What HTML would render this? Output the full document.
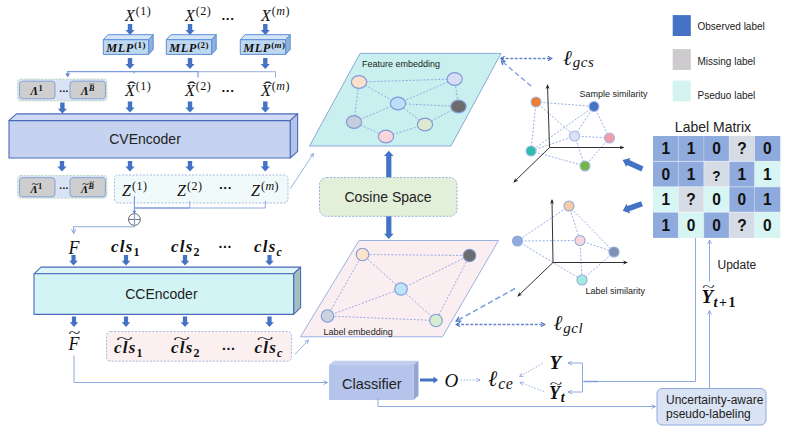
<!DOCTYPE html>
<html lang="en"><head><meta charset="utf-8"><title>Framework overview</title>
<style>
html,body{margin:0;padding:0;background:#fff}
body{width:800px;height:432px;overflow:hidden}
svg{display:block}
.sans{font-family:"Liberation Sans",Arial,sans-serif;fill:#222}
.mi{font-family:"Liberation Serif","DejaVu Serif",serif;font-style:italic;fill:#111}
.mb{font-family:"Liberation Serif","DejaVu Serif",serif;font-style:italic;font-weight:bold;fill:#111}
.mr{font-family:"Liberation Serif","DejaVu Serif",serif;font-style:normal;font-weight:normal;fill:#111}
.mrb{font-family:"Liberation Serif","DejaVu Serif",serif;font-style:normal;font-weight:bold;fill:#111}
.dots{font-family:"Liberation Sans",sans-serif;font-weight:bold;fill:#111}
.cell{font-family:"Liberation Sans",Arial,sans-serif;font-weight:bold;font-size:16.5px;fill:#111;text-anchor:middle}
</style></head><body>
<svg width="800" height="432" viewBox="0 0 800 432">
<defs>
<marker id="oa" viewBox="0 0 10 10" refX="9" refY="5" markerWidth="5" markerHeight="5" orient="auto-start-reverse"><path d="M1 1L9 5L1 9" fill="none" stroke="#7C9BDD" stroke-width="1.6"/></marker>
<marker id="fa" viewBox="0 0 10 10" refX="8" refY="5" markerWidth="4" markerHeight="4" markerUnits="strokeWidth" orient="auto-start-reverse"><path d="M1 0.8L8.5 5L1 9.2" fill="none" stroke="#4A6DC0" stroke-width="2.2"/></marker>
<marker id="ka" viewBox="0 0 10 10" refX="8" refY="5" markerWidth="5" markerHeight="5" orient="auto-start-reverse"><path d="M0 1L10 5L0 9L3 5Z" fill="#222"/></marker>
</defs>
<rect width="800" height="432" fill="#fff"/>

<text x="125" y="21" class="mi" font-size="16">X<tspan class="mr" font-size="12" dx="1" dy="-6" letter-spacing="0.5">(1)</tspan></text>
<text x="185" y="21" class="mi" font-size="16">X<tspan class="mr" font-size="12" dx="1" dy="-6" letter-spacing="0.5">(2)</tspan></text>
<text x="261" y="21" class="mi" font-size="16">X<tspan class="mr" font-size="12" dx="1" dy="-6" letter-spacing="0.5">(<tspan class="mi">m</tspan>)</tspan></text>
<text x="221.5" y="20" class="dots" font-size="13.5" letter-spacing="0.6">...</text>
<path d="M127.8 24.0H132.2V30.1H134.6L130.0 35.0L125.4 30.1H127.8Z" fill="#4472C4"/>
<path d="M187.8 24.0H192.2V30.1H194.6L190.0 35.0L185.4 30.1H187.8Z" fill="#4472C4"/>
<path d="M263.1 24.0H267.5V30.1H269.9L265.3 35.0L260.7 30.1H263.1Z" fill="#4472C4"/>
<path d="M103.3 39.7L107.89999999999999 34.7H153.2L148.6 39.7Z" fill="#D3E5F7" stroke="#5B8FD6" stroke-width="1" stroke-linejoin="round"/><path d="M148.6 39.7L153.2 34.7V49.4L148.6 54.4Z" fill="#8FB0D9" stroke="#5B8FD6" stroke-width="1" stroke-linejoin="round"/><rect x="103.3" y="39.7" width="45.3" height="14.699999999999996" fill="#BFD8F2" stroke="#5B8FD6" stroke-width="1" stroke-linejoin="round"/>
<text x="106.3" y="51.8" class="mb" font-size="12.3" letter-spacing="0.55">MLP<tspan class="mrb" font-size="9" dy="-4" dx="0.3" letter-spacing="0.4">(1)</tspan></text>
<path d="M166.3 39.7L170.9 34.7H216.2L211.6 39.7Z" fill="#D3E5F7" stroke="#5B8FD6" stroke-width="1" stroke-linejoin="round"/><path d="M211.6 39.7L216.2 34.7V49.4L211.6 54.4Z" fill="#8FB0D9" stroke="#5B8FD6" stroke-width="1" stroke-linejoin="round"/><rect x="166.3" y="39.7" width="45.29999999999998" height="14.699999999999996" fill="#BFD8F2" stroke="#5B8FD6" stroke-width="1" stroke-linejoin="round"/>
<text x="169.3" y="51.8" class="mb" font-size="12.3" letter-spacing="0.55">MLP<tspan class="mrb" font-size="9" dy="-4" dx="0.3" letter-spacing="0.4">(2)</tspan></text>
<path d="M240.3 39.7L244.9 34.7H290.20000000000005L285.6 39.7Z" fill="#D3E5F7" stroke="#5B8FD6" stroke-width="1" stroke-linejoin="round"/><path d="M285.6 39.7L290.20000000000005 34.7V49.4L285.6 54.4Z" fill="#8FB0D9" stroke="#5B8FD6" stroke-width="1" stroke-linejoin="round"/><rect x="240.3" y="39.7" width="45.30000000000001" height="14.699999999999996" fill="#BFD8F2" stroke="#5B8FD6" stroke-width="1" stroke-linejoin="round"/>
<text x="243.3" y="51.8" class="mb" font-size="12.3" letter-spacing="0.55">MLP<tspan class="mrb" font-size="9" dy="-4" dx="0.3" letter-spacing="0.4">(<tspan class="mb">m</tspan>)</tspan></text>
<path d="M127.8 58.0H132.2V64.1H134.6L130.0 69.0L125.4 64.1H127.8Z" fill="#4472C4"/>
<path d="M187.8 58.0H192.2V64.1H194.6L190.0 69.0L185.4 64.1H187.8Z" fill="#4472C4"/>
<path d="M263.1 58.0H267.5V64.1H269.9L265.3 69.0L260.7 64.1H263.1Z" fill="#4472C4"/>
<path d="M275.5 77.5V71.7H198" fill="none" stroke="#8FAADC" stroke-width="0.9"/><path d="M198 77.5V71.7H67.7V75M134 71.7V73.5" fill="none" stroke="#7C9BDD" stroke-width="1.2"/>
<path d="M65.2 73.6L67.7 77.2L70.2 73.6Z" fill="#5F84D4"/>
<rect x="17.5" y="79" width="89.5" height="22" rx="3" fill="#DAE3F3" stroke="#B5D6A7" stroke-width="0.8" stroke-dasharray="2 1.5"/><rect x="19.6" y="81.2" width="35.4" height="17.6" rx="3" fill="#CFCECE" stroke="#7F9AD4" stroke-width="0.9"/><rect x="70" y="81.2" width="35.4" height="17.6" rx="3" fill="#CFCECE" stroke="#7F9AD4" stroke-width="0.9"/><text x="30.5" y="95" class="mb" font-size="11.5">Λ<tspan class="mrb" font-size="8.5" dy="-4.5" dx="0.3">1</tspan></text><text x="81" y="95" class="mb" font-size="11.5">Λ<tspan class="mb" font-size="8" dy="-4.5" dx="0.3">B</tspan></text><text x="89.6" y="85.6" class="mrb" font-size="6" textLength="4.5" lengthAdjust="spacingAndGlyphs">~</text><text x="59.3" y="92.4" class="dots" font-size="10" letter-spacing="0.3">...</text>
<text x="125" y="96" class="mi" font-size="16">X<tspan class="mr" font-size="12" dx="1" dy="-6" letter-spacing="0.5">(1)</tspan></text>
<text x="127.2" y="93" class="mr" font-size="17" textLength="9" lengthAdjust="spacingAndGlyphs">ˆ</text>
<text x="185" y="96" class="mi" font-size="16">X<tspan class="mr" font-size="12" dx="1" dy="-6" letter-spacing="0.5">(2)</tspan></text>
<text x="187.2" y="93" class="mr" font-size="17" textLength="9" lengthAdjust="spacingAndGlyphs">ˆ</text>
<text x="261" y="96" class="mi" font-size="16">X<tspan class="mr" font-size="12" dx="1" dy="-6" letter-spacing="0.5">(<tspan class="mi">m</tspan>)</tspan></text>
<text x="263.2" y="93" class="mr" font-size="17" textLength="9" lengthAdjust="spacingAndGlyphs">ˆ</text>
<text x="221.5" y="92.3" class="dots" font-size="13.5" letter-spacing="0.6">...</text>
<path d="M60.2 102.6H64.6V108.7H67.0L62.4 113.6L57.8 108.7H60.2Z" fill="#4472C4"/>
<path d="M127.8 101.5H132.2V107.6H134.6L130.0 112.5L125.4 107.6H127.8Z" fill="#4472C4"/>
<path d="M187.8 101.5H192.2V107.6H194.6L190.0 112.5L185.4 107.6H187.8Z" fill="#4472C4"/>
<path d="M263.1 101.5H267.5V107.6H269.9L265.3 112.5L260.7 107.6H263.1Z" fill="#4472C4"/>
<path d="M9 120.6L16.4 113.89999999999999H297.59999999999997L290.2 120.6Z" fill="#CFDAF3" stroke="#4A6ABB" stroke-width="1.1" stroke-linejoin="round"/><path d="M290.2 120.6L297.59999999999997 113.89999999999999V151.3L290.2 158Z" fill="#B5C4E6" stroke="#4A6ABB" stroke-width="1.1" stroke-linejoin="round"/><rect x="9" y="120.6" width="281.2" height="37.400000000000006" fill="#C5D3F0" stroke="#4A6ABB" stroke-width="1.1" stroke-linejoin="round"/>
<text x="145" y="143.5" class="sans" font-size="14" text-anchor="middle">CVEncoder</text>
<path d="M59.8 161.0H64.2V166.6H66.6L62.0 171.5L57.4 166.6H59.8Z" fill="#4472C4"/>
<path d="M127.8 161.0H132.2V166.6H134.6L130.0 171.5L125.4 166.6H127.8Z" fill="#4472C4"/>
<path d="M187.8 161.0H192.2V166.6H194.6L190.0 171.5L185.4 166.6H187.8Z" fill="#4472C4"/>
<path d="M263.1 161.0H267.5V166.6H269.9L265.3 171.5L260.7 166.6H263.1Z" fill="#4472C4"/>
<rect x="17.5" y="175.5" width="89.5" height="22.69999999999999" rx="3" fill="#DAE3F3" stroke="#B5D6A7" stroke-width="0.8" stroke-dasharray="2 1.5"/><rect x="19.6" y="177.7" width="35.4" height="19.099999999999987" rx="3" fill="#CFCECE" stroke="#7F9AD4" stroke-width="0.9"/><rect x="70" y="177.7" width="35.4" height="19.099999999999987" rx="3" fill="#CFCECE" stroke="#7F9AD4" stroke-width="0.9"/><text x="30.5" y="193.4" class="mb" font-size="10.8">Λ<tspan class="mrb" font-size="8.5" dy="-4.5" dx="0.3">1</tspan></text><text x="81" y="193.4" class="mb" font-size="10.8">Λ<tspan class="mb" font-size="8" dy="-4.5" dx="0.3">B</tspan></text><text x="89.6" y="184.0" class="mrb" font-size="6" textLength="4.5" lengthAdjust="spacingAndGlyphs">~</text><text x="31.8" y="186.5" class="mrb" font-size="9" textLength="6.5" lengthAdjust="spacingAndGlyphs">~</text><text x="82.3" y="186.5" class="mrb" font-size="9" textLength="6.5" lengthAdjust="spacingAndGlyphs">~</text><text x="59.3" y="189.2" class="dots" font-size="10" letter-spacing="0.3">...</text>
<rect x="114.5" y="175" width="173.5" height="28" rx="4" fill="#F1FAFA" stroke="#8FAADC" stroke-width="0.8" stroke-dasharray="2 1.5"/>
<text x="122" y="196" class="mi" font-size="16">Z<tspan class="mr" font-size="12" dx="1" dy="-6" letter-spacing="0.5">(1)</tspan></text>
<text x="177" y="196" class="mi" font-size="16">Z<tspan class="mr" font-size="12" dx="1" dy="-6" letter-spacing="0.5">(2)</tspan></text>
<text x="251" y="196" class="mi" font-size="16">Z<tspan class="mr" font-size="12" dx="1" dy="-6" letter-spacing="0.5">(<tspan class="mi">m</tspan>)</tspan></text>
<text x="219" y="188.5" class="dots" font-size="13.5" letter-spacing="0.6">...</text>
<path d="M189.7 201V208M265.3 201V208H189.7" fill="none" stroke="#8FAADC" stroke-width="1"/><path d="M134.4 208H189.7" fill="none" stroke="#7C9BDD" stroke-width="1.3"/>
<circle cx="134.4" cy="219.5" r="5.9" fill="#fff" stroke="#555" stroke-width="0.9"/><path d="M128.5 219.5H140.3" stroke="#555" stroke-width="0.8"/>
<path d="M134.4 196V226.8" fill="none" stroke="#7C9BDD" stroke-width="1.1"/><path d="M132.4 210.8L134.4 213.8L136.4 210.8Z" fill="#5F84D4"/>
<path d="M134.4 226.8H73.7V233.5" fill="none" stroke="#8FAADC" stroke-width="1.1" marker-end="url(#oa)"/>
<text x="68.5" y="254" class="mi" font-size="18">F</text>
<text x="111" y="252" class="mb" font-size="17" letter-spacing="1.2">cls<tspan class="mrb" font-size="12" dy="3.5">1</tspan></text>
<text x="171" y="252" class="mb" font-size="17" letter-spacing="1.2">cls<tspan class="mrb" font-size="12" dy="3.5">2</tspan></text>
<text x="254" y="252" class="mb" font-size="17" letter-spacing="1.2">cls<tspan class="mb" font-size="12" dy="3.5">c</tspan></text>
<text x="218.5" y="248.2" class="dots" font-size="14" letter-spacing="0.6">...</text>
<path d="M71.4 255.0H75.6V260.8H77.8L73.5 265.5L69.2 260.8H71.4Z" fill="#4472C4"/>
<path d="M123.9 255.0H128.1V260.8H130.3L126.0 265.5L121.7 260.8H123.9Z" fill="#4472C4"/>
<path d="M182.9 255.0H187.1V260.8H189.3L185.0 265.5L180.7 260.8H182.9Z" fill="#4472C4"/>
<path d="M267.4 255.0H271.6V260.8H273.8L269.5 265.5L265.2 260.8H267.4Z" fill="#4472C4"/>
<path d="M34 273.8L41 267.1H300.6L293.6 273.8Z" fill="#DDF7F8" stroke="#4A6ABB" stroke-width="1.1" stroke-linejoin="round"/><path d="M293.6 273.8L300.6 267.1V307.7L293.6 314.4Z" fill="#A3BFBF" stroke="#4A6ABB" stroke-width="1.1" stroke-linejoin="round"/><rect x="34" y="273.8" width="259.6" height="40.599999999999966" fill="#D3F4F5" stroke="#4A6ABB" stroke-width="1.1" stroke-linejoin="round"/>
<text x="161.4" y="299" class="sans" font-size="14" text-anchor="middle">CCEncoder</text>
<path d="M71.9 316.5H76.1V322.3H78.3L74.0 327.0L69.7 322.3H71.9Z" fill="#4472C4"/>
<path d="M123.9 316.5H128.1V322.3H130.3L126.0 327.0L121.7 322.3H123.9Z" fill="#4472C4"/>
<path d="M182.9 316.5H187.1V322.3H189.3L185.0 327.0L180.7 322.3H182.9Z" fill="#4472C4"/>
<path d="M267.4 316.5H271.6V322.3H273.8L269.5 327.0L265.2 322.3H267.4Z" fill="#4472C4"/>
<text x="68.5" y="349.5" class="mi" font-size="18">F</text>
<text x="68.6" y="338.2" class="mr" font-size="14" textLength="11.8" lengthAdjust="spacingAndGlyphs">~</text>
<rect x="106.5" y="331.5" width="185" height="29.7" rx="4" fill="#FBEFF0" stroke="#8FAADC" stroke-width="0.8" stroke-dasharray="2 1.5"/>
<text x="114" y="353" class="mb" font-size="17" letter-spacing="1.2">cls<tspan class="mrb" font-size="12" dy="3.5">1</tspan></text>
<text x="116.3" y="343.7" class="mr" font-size="15" textLength="16.7" lengthAdjust="spacingAndGlyphs">~</text>
<text x="171" y="353" class="mb" font-size="17" letter-spacing="1.2">cls<tspan class="mrb" font-size="12" dy="3.5">2</tspan></text>
<text x="173.3" y="343.7" class="mr" font-size="15" textLength="16.7" lengthAdjust="spacingAndGlyphs">~</text>
<text x="254.5" y="353" class="mb" font-size="17" letter-spacing="1.2">cls<tspan class="mb" font-size="12" dy="3.5">c</tspan></text>
<text x="256.8" y="343.7" class="mr" font-size="15" textLength="16.7" lengthAdjust="spacingAndGlyphs">~</text>
<text x="222" y="350" class="dots" font-size="14" letter-spacing="0.6">...</text>
<path d="M74 355.5V382.5H327.5" fill="none" stroke="#8FAADC" stroke-width="1" marker-end="url(#oa)"/>
<path d="M290 189L313.5 153.5" fill="none" stroke="#8FAADC" stroke-width="0.9" marker-end="url(#oa)"/>
<path d="M295 354.5L308.5 340" fill="none" stroke="#8FAADC" stroke-width="0.9" marker-end="url(#oa)"/>
<path d="M360 53.4H501L451 146H309.5Z" fill="#C9F0EE" stroke="#7FA0D6" stroke-width="0.9"/>
<line x1="359" y1="82" x2="454.7" y2="79" stroke="#7F9BE0" stroke-width="0.8" stroke-dasharray="2 1.6"/><line x1="359" y1="82" x2="398" y2="103.5" stroke="#7F9BE0" stroke-width="0.8" stroke-dasharray="2 1.6"/><line x1="359" y1="82" x2="354" y2="122" stroke="#7F9BE0" stroke-width="0.8" stroke-dasharray="2 1.6"/><line x1="454.7" y1="79" x2="398" y2="103.5" stroke="#7F9BE0" stroke-width="0.8" stroke-dasharray="2 1.6"/><line x1="454.7" y1="79" x2="458.5" y2="106.5" stroke="#7F9BE0" stroke-width="0.8" stroke-dasharray="2 1.6"/><line x1="398" y1="103.5" x2="458.5" y2="106.5" stroke="#7F9BE0" stroke-width="0.8" stroke-dasharray="2 1.6"/><line x1="398" y1="103.5" x2="354" y2="122" stroke="#7F9BE0" stroke-width="0.8" stroke-dasharray="2 1.6"/><line x1="398" y1="103.5" x2="425" y2="124.5" stroke="#7F9BE0" stroke-width="0.8" stroke-dasharray="2 1.6"/><line x1="458.5" y1="106.5" x2="425" y2="124.5" stroke="#7F9BE0" stroke-width="0.8" stroke-dasharray="2 1.6"/><line x1="354" y1="122" x2="386" y2="136.5" stroke="#7F9BE0" stroke-width="0.8" stroke-dasharray="2 1.6"/><line x1="386" y1="136.5" x2="425" y2="124.5" stroke="#7F9BE0" stroke-width="0.8" stroke-dasharray="2 1.6"/><ellipse cx="359" cy="82" rx="7.6" ry="6.4" fill="#FBE0CC" stroke="#8199D8" stroke-width="1.1"/><ellipse cx="454.7" cy="79" rx="7.6" ry="6.4" fill="#D6DDF5" stroke="#8199D8" stroke-width="1.1"/><ellipse cx="398" cy="103.5" rx="7.6" ry="6.4" fill="#BDDFF7" stroke="#8199D8" stroke-width="1.1"/><ellipse cx="458.5" cy="106.5" rx="7.6" ry="6.4" fill="#6C6C6C" stroke="#8199D8" stroke-width="1.1"/><ellipse cx="354" cy="122" rx="7.6" ry="6.4" fill="#C5CEDC" stroke="#8199D8" stroke-width="1.1"/><ellipse cx="425" cy="124.5" rx="7.6" ry="6.4" fill="#DEE9CE" stroke="#8199D8" stroke-width="1.1"/><ellipse cx="386" cy="136.5" rx="7.6" ry="6.4" fill="#FBD5DC" stroke="#8199D8" stroke-width="1.1"/>
<text x="362" y="67" class="sans" font-size="9">Feature embedding</text>
<path d="M386.2 177.5V156H384L388.8 150.7L393.6 156H391.4V177.5Z" fill="#4472C4"/>
<path d="M386.2 216V233.7H384L388.8 239L393.6 233.7H391.4V216Z" fill="#4472C4"/>
<rect x="319.5" y="177.5" width="137.5" height="38.8" rx="7" fill="#E2F0D9" stroke="#7F9BE0" stroke-width="0.8" stroke-dasharray="2 1.5"/>
<text x="388" y="202" class="sans" font-size="14" text-anchor="middle">Cosine Space</text>
<path d="M359 240.5H498.5L442.5 336.8H300.5Z" fill="#FBEEF1" stroke="#8FAADC" stroke-width="0.9"/>
<line x1="362.5" y1="254.5" x2="469.5" y2="255.5" stroke="#7F9BE0" stroke-width="0.8" stroke-dasharray="2 1.6"/><line x1="362.5" y1="254.5" x2="401" y2="289" stroke="#7F9BE0" stroke-width="0.8" stroke-dasharray="2 1.6"/><line x1="362.5" y1="254.5" x2="327.5" y2="316" stroke="#7F9BE0" stroke-width="0.8" stroke-dasharray="2 1.6"/><line x1="469.5" y1="255.5" x2="401" y2="289" stroke="#7F9BE0" stroke-width="0.8" stroke-dasharray="2 1.6"/><line x1="469.5" y1="255.5" x2="436" y2="320.5" stroke="#7F9BE0" stroke-width="0.8" stroke-dasharray="2 1.6"/><line x1="401" y1="289" x2="327.5" y2="316" stroke="#7F9BE0" stroke-width="0.8" stroke-dasharray="2 1.6"/><line x1="401" y1="289" x2="436" y2="320.5" stroke="#7F9BE0" stroke-width="0.8" stroke-dasharray="2 1.6"/><line x1="327.5" y1="316" x2="436" y2="320.5" stroke="#7F9BE0" stroke-width="0.8" stroke-dasharray="2 1.6"/><ellipse cx="362.5" cy="254.5" rx="6.3" ry="6.3" fill="#FBE3CC" stroke="#8199D8" stroke-width="1.1"/><ellipse cx="469.5" cy="255.5" rx="6.3" ry="6.3" fill="#6C6C6C" stroke="#8199D8" stroke-width="1.1"/><ellipse cx="401" cy="289" rx="6.3" ry="6.3" fill="#BDE3F9" stroke="#8199D8" stroke-width="1.1"/><ellipse cx="327.5" cy="316" rx="6.3" ry="6.3" fill="#CBD3E0" stroke="#8199D8" stroke-width="1.1"/><ellipse cx="436" cy="320.5" rx="6.3" ry="6.3" fill="#D6EDD2" stroke="#8199D8" stroke-width="1.1"/>
<text x="323.6" y="334.5" class="sans" font-size="9">Label embedding</text>
<path d="M329 365L334 360.8H418.5L413.5 365Z" fill="#C2CEEE"/><path d="M413.5 365L418.5 360.8V395.5L413.5 400Z" fill="#93A5D2"/><rect x="329" y="365" width="84.5" height="35" fill="#B4C4EA"/>
<text x="371.8" y="389" class="sans" font-size="14.5" text-anchor="middle">Classifier</text>
<path d="M420 378.5H433.5V376.6L438.2 380L433.5 383.4V381.5H420Z" fill="#4472C4"/>
<text x="444.5" y="386.5" class="mi" font-size="19">O</text>
<path d="M460.5 380H480" fill="none" stroke="#8FAADC" stroke-width="0.9" stroke-dasharray="1.5 1.5" marker-end="url(#oa)"/>
<text x="488" y="385.6" class="mi" font-size="22">ℓ<tspan font-size="16" dy="3" dx="1" letter-spacing="0.5">ce</tspan></text>
<text x="549.5" y="368.5" class="mb" font-size="19">Y</text>
<text x="549" y="398.6" class="mb" font-size="18">Y<tspan font-size="14" dy="3.4" dx="0.8">t</tspan></text>
<text x="549.8" y="388.3" class="mr" font-size="13" textLength="12.5" lengthAdjust="spacingAndGlyphs">~</text>
<path d="M542.5 363.5L519.5 376.5" fill="none" stroke="#8FAADC" stroke-width="0.9" stroke-dasharray="1.5 1.5" marker-end="url(#oa)"/>
<path d="M544 391.5L520 382.5" fill="none" stroke="#8FAADC" stroke-width="0.9" stroke-dasharray="1.5 1.5" marker-end="url(#oa)"/>
<path d="M568 363H582.5V392H568" fill="none" stroke="#8FAADC" stroke-width="1" marker-start="url(#oa)" marker-end="url(#oa)"/>
<path d="M582.5 381.5H695.5V237.5" fill="none" stroke="#8FAADC" stroke-width="1"/>
<path d="M584 381.5H598" fill="none" stroke="#7C9BDD" stroke-width="1.4"/>
<path d="M378 398V406.5H655.5" fill="none" stroke="#8FAADC" stroke-width="1" marker-end="url(#oa)"/>
<rect x="657" y="388.5" width="109" height="36.5" rx="5" fill="#DAE3F3" stroke="#8FAADC" stroke-width="1"/>
<text x="666" y="403.5" class="sans" font-size="12">Uncertainty-aware</text>
<text x="666" y="418" class="sans" font-size="12">pseudo-labeling</text>
<path d="M709.5 388.5V310.5" fill="none" stroke="#8FAADC" stroke-width="1" marker-end="url(#oa)"/>
<path d="M709.5 281.5V240" fill="none" stroke="#8FAADC" stroke-width="1" marker-end="url(#oa)"/>
<text x="701.5" y="303" class="mb" font-size="19">Y<tspan font-size="14.5" dy="4" dx="0.5" letter-spacing="1.4">t</tspan><tspan class="mrb" font-size="14" letter-spacing="1.4">+1</tspan></text>
<text x="702.3" y="290.6" class="mr" font-size="13" textLength="12.5" lengthAdjust="spacingAndGlyphs">~</text>
<text x="717.5" y="269" class="sans" font-size="12">Update</text>
<text x="563" y="64.8" class="mi" font-size="21">ℓ<tspan font-size="15" dy="2.4" dx="1" letter-spacing="0.6">gcs</tspan></text>
<path d="M501 58.5H551.5" fill="none" stroke="#6585CC" stroke-width="1.3" stroke-dasharray="3 1.6" marker-start="url(#fa)" marker-end="url(#fa)"/>
<path d="M531 86L501.5 61" fill="none" stroke="#7C9BDD" stroke-width="1.3" stroke-dasharray="5 3" marker-end="url(#fa)"/>
<text x="553.5" y="330.4" class="mi" font-size="21">ℓ<tspan font-size="15" dy="2.6" dx="1" letter-spacing="0.6">gcl</tspan></text>
<path d="M456.5 324.5H544.5" fill="none" stroke="#6585CC" stroke-width="1.3" stroke-dasharray="3 1.6" marker-start="url(#fa)" marker-end="url(#fa)"/>
<path d="M515 288.5L456.5 321" fill="none" stroke="#7C9BDD" stroke-width="1.5" stroke-dasharray="5.5 3" marker-end="url(#fa)"/>
<line x1="536" y1="102" x2="594" y2="106.5" stroke="#7F9BE0" stroke-width="0.8" stroke-dasharray="2 1.6"/><line x1="536" y1="102" x2="531" y2="151" stroke="#7F9BE0" stroke-width="0.8" stroke-dasharray="2 1.6"/><line x1="536" y1="102" x2="574.5" y2="136" stroke="#7F9BE0" stroke-width="0.8" stroke-dasharray="2 1.6"/><line x1="594" y1="106.5" x2="531" y2="151" stroke="#7F9BE0" stroke-width="0.8" stroke-dasharray="2 1.6"/><line x1="594" y1="106.5" x2="574.5" y2="136" stroke="#7F9BE0" stroke-width="0.8" stroke-dasharray="2 1.6"/><line x1="594" y1="106.5" x2="609.5" y2="138" stroke="#7F9BE0" stroke-width="0.8" stroke-dasharray="2 1.6"/><line x1="574.5" y1="136" x2="609.5" y2="138" stroke="#7F9BE0" stroke-width="0.8" stroke-dasharray="2 1.6"/><line x1="574.5" y1="136" x2="531" y2="151" stroke="#7F9BE0" stroke-width="0.8" stroke-dasharray="2 1.6"/><line x1="574.5" y1="136" x2="585" y2="166" stroke="#7F9BE0" stroke-width="0.8" stroke-dasharray="2 1.6"/><line x1="609.5" y1="138" x2="585" y2="166" stroke="#7F9BE0" stroke-width="0.8" stroke-dasharray="2 1.6"/><line x1="531" y1="151" x2="585" y2="166" stroke="#7F9BE0" stroke-width="0.8" stroke-dasharray="2 1.6"/>
<line x1="549.5" y1="147.5" x2="547.5" y2="85" stroke="#333" stroke-width="1" marker-end="url(#ka)"/><line x1="549.5" y1="147.5" x2="623.5" y2="147.5" stroke="#333" stroke-width="1" marker-end="url(#ka)"/><line x1="549.5" y1="147.5" x2="514" y2="182" stroke="#333" stroke-width="1" marker-end="url(#ka)"/>
<ellipse cx="536" cy="102" rx="5" ry="5" fill="#ED7D31" stroke="#A8B8E8" stroke-width="1.1"/><ellipse cx="594" cy="106.5" rx="5" ry="5" fill="#4472C4" stroke="#A8B8E8" stroke-width="1.1"/><ellipse cx="574.5" cy="136" rx="5" ry="5" fill="#DAE3F3" stroke="#A8B8E8" stroke-width="1.1"/><ellipse cx="609.5" cy="138" rx="5" ry="5" fill="#F19CAB" stroke="#A8B8E8" stroke-width="1.1"/><ellipse cx="531" cy="151" rx="5" ry="5" fill="#2DBDAE" stroke="#A8B8E8" stroke-width="1.1"/><ellipse cx="585" cy="166" rx="5" ry="5" fill="#70B843" stroke="#A8B8E8" stroke-width="1.1"/>
<text x="579.5" y="97" class="sans" font-size="9">Sample similarity</text>
<line x1="569" y1="206" x2="517.5" y2="241" stroke="#7F9BE0" stroke-width="0.8" stroke-dasharray="2 1.6"/><line x1="569" y1="206" x2="580" y2="240.5" stroke="#7F9BE0" stroke-width="0.8" stroke-dasharray="2 1.6"/><line x1="569" y1="206" x2="614" y2="252" stroke="#7F9BE0" stroke-width="0.8" stroke-dasharray="2 1.6"/><line x1="517.5" y1="241" x2="580" y2="240.5" stroke="#7F9BE0" stroke-width="0.8" stroke-dasharray="2 1.6"/><line x1="517.5" y1="241" x2="582" y2="280" stroke="#7F9BE0" stroke-width="0.8" stroke-dasharray="2 1.6"/><line x1="580" y1="240.5" x2="614" y2="252" stroke="#7F9BE0" stroke-width="0.8" stroke-dasharray="2 1.6"/><line x1="580" y1="240.5" x2="582" y2="280" stroke="#7F9BE0" stroke-width="0.8" stroke-dasharray="2 1.6"/><line x1="614" y1="252" x2="582" y2="280" stroke="#7F9BE0" stroke-width="0.8" stroke-dasharray="2 1.6"/>
<line x1="553" y1="262.5" x2="552" y2="200" stroke="#333" stroke-width="1" marker-end="url(#ka)"/><line x1="553" y1="262.5" x2="627" y2="262.5" stroke="#333" stroke-width="1" marker-end="url(#ka)"/><line x1="553" y1="262.5" x2="518" y2="296" stroke="#333" stroke-width="1" marker-end="url(#ka)"/>
<ellipse cx="569" cy="206" rx="5" ry="5" fill="#F8CBA5" stroke="#8FAADC" stroke-width="1.1"/><ellipse cx="517.5" cy="241" rx="5" ry="5" fill="#8FAADC" stroke="#8FAADC" stroke-width="1.1"/><ellipse cx="580" cy="240.5" rx="5" ry="5" fill="#FBD5DC" stroke="#8FAADC" stroke-width="1.1"/><ellipse cx="614" cy="252" rx="5" ry="5" fill="#7F92B5" stroke="#8FAADC" stroke-width="1.1"/><ellipse cx="582" cy="280" rx="5" ry="5" fill="#A5EBDD" stroke="#8FAADC" stroke-width="1.1"/>
<text x="585.5" y="294" class="sans" font-size="9">Label similarity</text>
<path d="M0 -2.7H15.5V-5L21.7 0L15.5 5V2.7H0Z" fill="#4472C4" transform="translate(642.4,169) rotate(204.5)"/>
<path d="M0 -2.7H14.5V-5.2L20.5 0L14.5 5.2V2.7H0Z" fill="#4472C4" transform="translate(642,203.7) rotate(160)"/>
<rect x="672.7" y="15.1" width="18.1" height="20.9" fill="#4472C4"/>
<text x="697.5" y="30.3" class="sans" font-size="10">Observed label</text>
<rect x="672.7" y="49.1" width="18.1" height="20.9" fill="#CDCBCD"/>
<text x="697.5" y="64.5" class="sans" font-size="10">Missing label</text>
<rect x="672.7" y="80.6" width="18.1" height="20.9" fill="#D4F3F1"/>
<text x="697.5" y="98.5" class="sans" font-size="10">Pseduo label</text>
<text x="713" y="132" class="sans" font-size="14" text-anchor="middle">Label Matrix</text>
<rect x="653.0" y="136.0" width="25.7" height="25.7" fill="#8FAADC"/>
<rect x="678.4" y="136.0" width="25.7" height="25.7" fill="#8FAADC"/>
<rect x="703.8" y="136.0" width="25.7" height="25.7" fill="#8FAADC"/>
<rect x="729.2" y="136.0" width="25.7" height="25.7" fill="#D6DCE5"/>
<rect x="754.6" y="136.0" width="25.7" height="25.7" fill="#8FAADC"/>
<rect x="653.0" y="161.4" width="25.7" height="25.7" fill="#8FAADC"/>
<rect x="678.4" y="161.4" width="25.7" height="25.7" fill="#8FAADC"/>
<rect x="703.8" y="161.4" width="25.7" height="25.7" fill="#D6DCE5"/>
<rect x="729.2" y="161.4" width="25.7" height="25.7" fill="#8FAADC"/>
<rect x="754.6" y="161.4" width="25.7" height="25.7" fill="#D6F5F3"/>
<rect x="653.0" y="186.8" width="25.7" height="25.7" fill="#D6F5F3"/>
<rect x="678.4" y="186.8" width="25.7" height="25.7" fill="#D6DCE5"/>
<rect x="703.8" y="186.8" width="25.7" height="25.7" fill="#D6F5F3"/>
<rect x="729.2" y="186.8" width="25.7" height="25.7" fill="#8FAADC"/>
<rect x="754.6" y="186.8" width="25.7" height="25.7" fill="#8FAADC"/>
<rect x="653.0" y="212.2" width="25.7" height="25.7" fill="#8FAADC"/>
<rect x="678.4" y="212.2" width="25.7" height="25.7" fill="#D6F5F3"/>
<rect x="703.8" y="212.2" width="25.7" height="25.7" fill="#8FAADC"/>
<rect x="729.2" y="212.2" width="25.7" height="25.7" fill="#D6DCE5"/>
<rect x="754.6" y="212.2" width="25.7" height="25.7" fill="#D6F5F3"/>
<line x1="678.4" y1="136" x2="678.4" y2="237.6" stroke="#fff" stroke-opacity="0.4" stroke-width="0.9"/>
<line x1="703.8" y1="136" x2="703.8" y2="237.6" stroke="#fff" stroke-opacity="0.4" stroke-width="0.9"/>
<line x1="729.2" y1="136" x2="729.2" y2="237.6" stroke="#fff" stroke-opacity="0.4" stroke-width="0.9"/>
<line x1="754.6" y1="136" x2="754.6" y2="237.6" stroke="#fff" stroke-opacity="0.4" stroke-width="0.9"/>
<line x1="653" y1="161.4" x2="780.0" y2="161.4" stroke="#fff" stroke-opacity="0.55" stroke-width="1"/>
<line x1="653" y1="186.8" x2="780.0" y2="186.8" stroke="#fff" stroke-opacity="0.55" stroke-width="1"/>
<line x1="653" y1="212.2" x2="780.0" y2="212.2" stroke="#fff" stroke-opacity="0.55" stroke-width="1"/>
<text transform="translate(665.7 154.3) scale(0.94 1)" class="cell">1</text>
<text transform="translate(691.1 154.3) scale(0.94 1)" class="cell">1</text>
<text transform="translate(716.5 154.3) scale(0.94 1)" class="cell">0</text>
<text transform="translate(741.9 154.3) scale(0.94 1)" class="cell">?</text>
<text transform="translate(767.3 154.3) scale(0.94 1)" class="cell">0</text>
<text transform="translate(665.7 179.7) scale(0.94 1)" class="cell">0</text>
<text transform="translate(691.1 179.7) scale(0.94 1)" class="cell">1</text>
<text transform="translate(716.5 181.1) scale(0.94 1)" class="cell" style="font-size:14.5px">?</text>
<text transform="translate(741.9 179.7) scale(0.94 1)" class="cell">1</text>
<text transform="translate(767.3 179.7) scale(0.94 1)" class="cell">1</text>
<text transform="translate(665.7 205.1) scale(0.94 1)" class="cell">1</text>
<text transform="translate(691.1 205.1) scale(0.94 1)" class="cell">?</text>
<text transform="translate(716.5 205.1) scale(0.94 1)" class="cell">0</text>
<text transform="translate(741.9 205.1) scale(0.94 1)" class="cell">0</text>
<text transform="translate(767.3 205.1) scale(0.94 1)" class="cell">1</text>
<text transform="translate(665.7 230.5) scale(0.94 1)" class="cell">1</text>
<text transform="translate(691.1 230.5) scale(0.94 1)" class="cell">0</text>
<text transform="translate(716.5 230.5) scale(0.94 1)" class="cell">0</text>
<text transform="translate(741.9 230.5) scale(0.94 1)" class="cell">?</text>
<text transform="translate(767.3 230.5) scale(0.94 1)" class="cell">0</text>
</svg>
</body></html>
